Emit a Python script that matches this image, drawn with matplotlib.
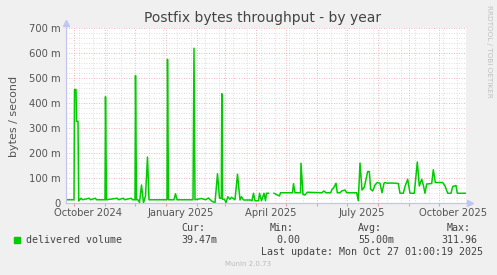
import numpy as np
import matplotlib
matplotlib.use('Agg')
import matplotlib.pyplot as plt
from matplotlib.lines import Line2D

# days since the left edge of the graph (2024-09-22 01:00), one year + a bit
days = [2, 8.5, 9, 10.5, 11, 12.5, 13.2, 15.5, 17, 23.8, 25, 29.8, 31, 39.5, 40, 41,
        51.8, 53, 57.8, 59, 65.8, 67, 69.5, 70, 71, 72.5, 74, 76, 78, 80, 82, 83.5,
        101.5, 102, 103, 108.5, 110, 111.5, 127.5, 128.5, 129.5, 136, 140, 143, 146,
        149.5, 152, 154, 155.8, 156.3, 157, 159, 160.5, 162.3, 164.5, 166, 169.5, 172,
        174.5, 176, 178, 185, 186.5, 188, 189.5, 193, 194, 196, 198.5, 200, 201, 203,
        205.5,
        208.5, 214, 215, 227, 228, 229.5, 235, 235.5, 237.5, 239.5, 241.8, 256.2, 258.5,
        260.5, 265.2, 266.2, 268.5, 270.5, 271.8, 274.5, 276.2, 279.5, 281.2, 291.2,
        292.8, 294.5, 296.5, 298.8, 302.2, 303.8, 305.2, 307.2, 309.5, 311.8, 314.5,
        316.5, 318.5, 319.5, 321.8, 326.2, 332.8, 334.5, 337.8, 339.5, 342.2, 344.5,
        348.8, 351.8, 353.8, 356.2, 357.8, 359.5, 361.2, 366.2, 367.8, 369.8, 377.2,
        379.5, 382.2, 385.5, 387.2, 390.5, 391.8, 400.5]

# delivered volume, milli-bytes per second (nan = no data)
volume = [13, 13, 454, 454, 327, 327, 8, 19, 13, 19, 13, 19, 13, 13, 425, 13,
          19, 13, 19, 13, 19, 13, 13, 510, 13, 13, 2, 72, 1, 28, 184, 13,
          13, 575, 13, 13, 37, 13, 13, 619, 13, 18, 13, 20, 8,
          1, 117, 19, 19, 437, 15, 15, 1, 25, 15, 23, 13, 115,
          12, 25, 12, 12, 9, 39, 9, 9, 39, 9, 39, 9, 39, 39,
          np.nan,
          39, 28, 41, 41, 77, 41, 41, 159, 34, 32, 43, 41, 48,
          41, 41, 52, 63, 79, 41, 41, 48, 52, 41, 41,
          9, 160, 52, 63, 126, 126, 55, 48, 72, 82, 79,
          41, 79, 82, 79, 80, 78, 39, 39, 66, 95, 39,
          39, 164, 68, 95, 72, 39, 76, 78, 133, 82, 82,
          68, 39, 39, 66, 70, 39, 39]

yticks = [0, 100, 200, 300, 400, 500, 600, 700]
ytick_labels = ['0', '100 m', '200 m', '300 m', '400 m', '500 m', '600 m', '700 m']
month_labels = [('October 2024', '2024-10-15'), ('January 2025', '2025-01-15'),
                ('April 2025', '2025-04-15'), ('July 2025', '2025-07-15'),
                ('October 2025', '2025-10-15')]

start = np.datetime64('2024-09-22T01:00')


def day_of(d):
    return (np.datetime64(d).astype('datetime64[m]') - start) / np.timedelta64(1, 'D')


W, H = 497, 275
fig = plt.figure(figsize=(W / 100, H / 100), dpi=100, facecolor='#f0f0f0')
ax = fig.add_axes([65.5 / W, (H - 203) / H, 400 / W, 175 / H])
ax.set_facecolor('#ffffff')

ax.plot(days, volume, color='#00cc00', lw=1.1, zorder=3)

ax.set_xlim(0, 400)
ax.set_ylim(0, 700)

months = np.arange(np.datetime64('2024-10'), np.datetime64('2025-11'), dtype='datetime64[M]')
month_days = [day_of(m) for m in months]
fortnights = np.arange(np.datetime64('2024-10-06'), np.datetime64('2025-10-27'), 14)
fortnight_days = [day_of(f) for f in fortnights]

ax.set_xticks(month_days)
ax.set_xticklabels([''] * len(month_days))
ax.set_xticks(fortnight_days, minor=True)
ax.set_yticks(yticks)
ax.set_yticklabels(ytick_labels)
ax.set_yticks(np.arange(0, 701, 20), minor=True)

ax.grid(which='minor', color='#d4d4d4', lw=0.6, ls=(0, (1, 2)))
ax.grid(which='major', color='#eaa0a0', lw=0.6, ls=(0, (1, 2)))
ax.set_axisbelow(True)

ax.tick_params(axis='y', which='both', length=0, pad=3.5, labelsize=7.2, labelcolor='#555555')
ax.tick_params(axis='x', which='major', length=2, color='#eaa0a0', pad=1)
ax.tick_params(axis='x', which='minor', length=0)

for s in ['top', 'right']:
    ax.spines[s].set_visible(False)
for s in ['left', 'bottom']:
    ax.spines[s].set_color('#c4c4f4')
    ax.spines[s].set_linewidth(0.8)

for name, d in month_labels:
    ax.text(day_of(d), -0.058, name, transform=ax.get_xaxis_transform(),
            ha='center', va='center', fontsize=7.2, color='#555555')

# axis arrows like rrdtool
fig.add_artist(Line2D([65.5 / W, 65.5 / W], [(H - 203) / H, (H - 22) / H], color='#c4c4f4', lw=0.8))
fig.add_artist(Line2D([65.5 / W, 470 / W], [(H - 203) / H, (H - 203) / H], color='#c4c4f4', lw=0.8))
fig.add_artist(Line2D([65.5 / W], [(H - 23) / H], marker='^', ms=4, color='#c4c4f4', lw=0))
fig.add_artist(Line2D([470 / W], [(H - 203) / H], marker='>', ms=4, color='#c4c4f4', lw=0))


def px(x, y, s, **kw):
    fig.text(x / W, 1 - y / H, s, **kw)


px(263, 18, 'Postfix bytes throughput - by year', ha='center', va='center',
   fontsize=10, color='#444444')
px(14, 116, 'bytes / second', ha='center', va='center', rotation=90,
   fontsize=8, color='#555555')
px(489, 5, 'RRDTOOL / TOBI OETIKER', ha='center', va='top', rotation=270,
   fontsize=5.2, color='#c0c0c0')

mono = dict(family='DejaVu Sans Mono', fontsize=7.2, color='#444444', va='center')
fig.add_artist(plt.Rectangle((14 / W, 1 - 243 / H), 6 / W, 6 / H, color='#00cc00'))
px(26, 240, 'delivered volume', ha='left', **mono)
px(181, 228, 'Cur:', ha='left', **mono)
px(181, 240, '39.47m', ha='left', **mono)
px(270, 228, 'Min:', ha='left', **mono)
px(276, 240, '0.00', ha='left', **mono)
px(358, 228, 'Avg:', ha='left', **mono)
px(358, 240, '55.00m', ha='left', **mono)
px(447, 228, 'Max:', ha='left', **mono)
px(441, 240, '311.96', ha='left', **mono)
px(483, 252, 'Last update: Mon Oct 27 01:00:19 2025', ha='right', **mono)
px(248, 264, 'Munin 2.0.73', ha='center', va='center', fontsize=5, color='#bbbbbb')

fig.savefig('out.png', dpi=100, facecolor=fig.get_facecolor())
